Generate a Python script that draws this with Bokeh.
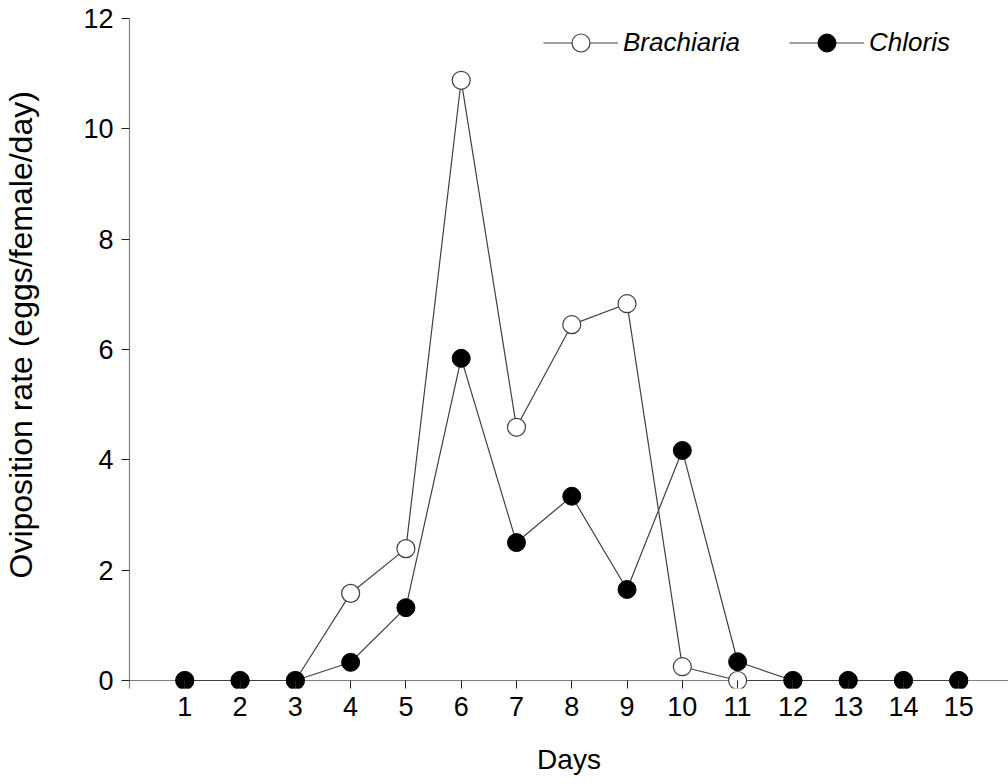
from bokeh.plotting import figure
from bokeh.models import Range1d, Span, Legend, LegendItem, FixedTicker, Title
from bokeh.embed import file_html
from bokeh.resources import INLINE

days = list(range(1, 16))
brachiaria = [0, 0, 0, 1.58, 2.39, 10.88, 4.59, 6.45, 6.83, 0.25, 0, 0, 0, 0, 0]
chloris = [0, 0, 0, 0.33, 1.32, 5.84, 2.50, 3.34, 1.65, 4.17, 0.34, 0, 0, 0, 0]
y_ticks = [0, 2, 4, 6, 8, 10, 12]
x_title = "Days"
y_title = "Oviposition rate (eggs/female/day)"

FONT = "Liberation Sans"

p = figure(width=1008, height=784, x_range=Range1d(0, 15.9), y_range=Range1d(-0.145, 12),
           min_border_left=129, min_border_right=0, min_border_top=18, min_border_bottom=96,
           output_backend="svg", toolbar_location=None)
p.outline_line_color = None
p.xgrid.visible = False
p.ygrid.visible = False

p.add_layout(Span(location=0, dimension="width", line_color="#808080", line_width=1.2, level="underlay"))

lb = p.line(days, brachiaria, line_color="#404040", line_width=1.2)
sb = p.scatter(days, brachiaria, size=18, fill_color="white", line_color="#404040", line_width=1.2)
lc = p.line(days, chloris, line_color="#404040", line_width=1.2)
sc = p.scatter(days, chloris, size=18, fill_color="black", line_color="black", line_width=1)

xa = p.xaxis[0]
xa.ticker = FixedTicker(ticks=days)
xa.axis_line_color = None
xa.major_tick_in = 8
xa.major_tick_out = 0
xa.major_tick_line_color = "#222222"
xa.minor_tick_line_color = None
xa.major_label_text_font = FONT
xa.major_label_text_font_size = "27px"
xa.major_label_text_color = "black"
xa.major_label_standoff = 8
xa.axis_label = x_title
xa.axis_label_text_font = FONT
xa.axis_label_text_font_size = "28px"
xa.axis_label_text_font_style = "normal"
xa.axis_label_text_color = "black"
xa.axis_label_standoff = 25

ya = p.yaxis[0]
ya.ticker = FixedTicker(ticks=y_ticks)
ya.axis_line_color = "#808080"
ya.axis_line_width = 1.2
ya.major_tick_in = 0
ya.major_tick_out = 8
ya.major_tick_line_color = "#222222"
ya.minor_tick_line_color = None
ya.major_label_text_font = FONT
ya.major_label_text_font_size = "27px"
ya.major_label_text_color = "black"
ya.major_label_standoff = 8

# empty spacer panel between the tick labels and the axis title
p.add_layout(Title(text=" ", text_font_size="1px", standoff=39), "left")
p.add_layout(Title(text=y_title, align="left", offset=110, vertical_align="bottom", standoff=0,
                   text_font=FONT, text_font_size="32px", text_font_style="normal",
                   text_color="black"), "left")

legend = Legend(items=[LegendItem(label="Brachiaria", renderers=[lb, sb]),
                       LegendItem(label="Chloris", renderers=[lc, sc])],
                orientation="horizontal", location=(414, 623),
                glyph_width=75, glyph_height=45, label_standoff=5, spacing=49,
                padding=0, margin=0, border_line_color=None, background_fill_alpha=0,
                label_text_font=FONT, label_text_font_size="26px",
                label_text_font_style="italic", label_text_color="black")
p.add_layout(legend)

open("out.html", "w").write(file_html(p, INLINE))
